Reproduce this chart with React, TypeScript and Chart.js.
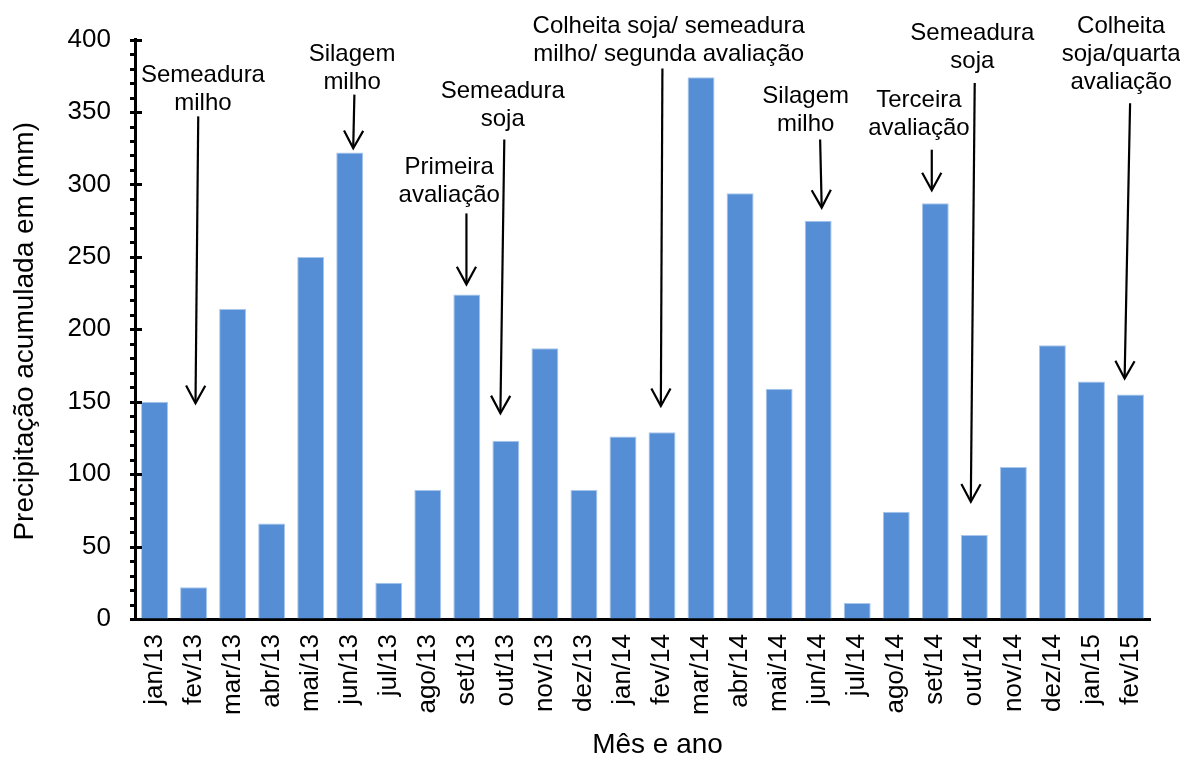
import React, { useEffect, useRef } from "react";
import { Chart, registerables } from "chart.js";

Chart.register(...registerables);

const months = [
  "jan/13", "fev/13", "mar/13", "abr/13", "mai/13", "jun/13", "jul/13", "ago/13",
  "set/13", "out/13", "nov/13", "dez/13", "jan/14", "fev/14", "mar/14", "abr/14",
  "mai/14", "jun/14", "jul/14", "ago/14", "set/14", "out/14", "nov/14", "dez/14",
  "jan/15", "fev/15",
];

const precipitation = [
  150, 22, 214, 66, 250, 322, 25, 89, 224, 123, 187, 89, 126, 129, 374, 294,
  159, 275, 11, 74, 287, 58, 105, 189, 164, 155,
];

const yMin = 0;
const yMax = 400;
const yMajorStep = 50;
const yMinorStep = 10;

const yTitle = "Precipitação acumulada em (mm)";
const xTitle = "Mês e ano";

// Annotations: text lines, text centre (category index), first line value
const noteLines: string[][] = [
  ["Semeadura", "milho"],
  ["Silagem", "milho"],
  ["Primeira", "avaliação"],
  ["Semeadura", "soja"],
  ["Colheita soja/ semeadura", "milho/ segunda avaliação"],
  ["Silagem", "milho"],
  ["Terceira", "avaliação"],
  ["Semeadura", "soja"],
  ["Colheita", "soja/quarta", "avaliação"],
];
const noteTextX = [1.24, 5.06, 7.55, 8.92, 13.17, 16.68, 19.58, 20.95, 24.76];
const noteTextY = [375, 390, 312, 364, 409, 361, 358, 404, 409];
// Arrows: from (index, value) to (index, value)
const arrowFromX = [1.12, 5.12, 7.99, 8.96, 13.01, 17.05, 19.91, 21.01, 24.99];
const arrowFromY = [347, 362, 280, 331, 380, 331, 324, 370, 356];
const arrowToX = [1.05, 5.09, 7.99, 8.86, 12.97, 17.09, 19.91, 20.91, 24.85];
const arrowToY = [149, 325, 231, 142, 147, 284, 296, 81, 166];

const FONT = "'Liberation Sans', Arial, sans-serif";

const overlayPlugin = {
  id: "overlay",
  afterDraw(chart: any) {
    const ctx = chart.ctx as CanvasRenderingContext2D;
    const x = chart.scales.x;
    const y = chart.scales.y;
    const area = chart.chartArea;
    const xAt = (i: number) => x.getPixelForValue(0) + i * (x.getPixelForValue(1) - x.getPixelForValue(0));
    ctx.save();

    // y ticks: minor (left side) and major (crossing the axis)
    ctx.strokeStyle = "#000";
    for (let v = yMin; v <= yMax; v += yMinorStep) {
      const py = Math.round(y.getPixelForValue(v)) + 0.5;
      const major = v % yMajorStep === 0;
      ctx.lineWidth = 3;
      ctx.beginPath();
      ctx.moveTo(area.left - 5, py);
      ctx.lineTo(major ? area.left + 7 : area.left, py);
      ctx.stroke();
    }

    // annotations
    ctx.fillStyle = "#000";
    ctx.font = `24px ${FONT}`;
    ctx.textAlign = "center";
    ctx.textBaseline = "middle";
    for (let k = 0; k < noteLines.length; k++) {
      const cx = xAt(noteTextX[k]);
      const cy = y.getPixelForValue(noteTextY[k]);
      noteLines[k].forEach((line, j) => ctx.fillText(line, cx, cy + j * 28));

      const x0 = xAt(arrowFromX[k]);
      const y0 = y.getPixelForValue(arrowFromY[k]);
      const x1 = xAt(arrowToX[k]);
      const y1 = y.getPixelForValue(arrowToY[k]);
      ctx.lineWidth = 2.2;
      ctx.beginPath();
      ctx.moveTo(x0, y0);
      ctx.lineTo(x1, y1 - 1);
      ctx.stroke();
      const ang = Math.atan2(y1 - y0, x1 - x0);
      const len = 20;
      const spread = 0.5;
      ctx.beginPath();
      ctx.moveTo(x1 - len * Math.cos(ang - spread), y1 - len * Math.sin(ang - spread));
      ctx.lineTo(x1, y1);
      ctx.lineTo(x1 - len * Math.cos(ang + spread), y1 - len * Math.sin(ang + spread));
      ctx.stroke();
    }

    // axis titles
    ctx.font = `28px ${FONT}`;
    ctx.textAlign = "center";
    ctx.textBaseline = "middle";
    ctx.fillText(xTitle, (area.left + area.right) / 2 + 15, 745);
    ctx.save();
    ctx.translate(25, (area.top + area.bottom) / 2 + 2);
    ctx.rotate(-Math.PI / 2);
    ctx.fillText(yTitle, 0, 0);
    ctx.restore();

    ctx.restore();
  },
};

export default function App() {
  const ref = useRef<HTMLCanvasElement | null>(null);

  useEffect(() => {
    if (!ref.current) return;
    const chart = new Chart(ref.current, {
      type: "bar",
      data: {
        labels: months,
        datasets: [
          {
            label: "Precipitação",
            data: precipitation,
            backgroundColor: "#558ED5",
            borderColor: "#A9C6EC",
            borderWidth: 1,
            barPercentage: 0.69,
            categoryPercentage: 1,
          },
        ],
      },
      options: {
        responsive: false,
        animation: false,
        layout: { padding: { top: 36, right: 30, bottom: 0, left: 0 } },
        plugins: {
          legend: { display: false },
          tooltip: { enabled: false },
          title: { display: false },
        },
        scales: {
          x: {
            afterFit: (s: any) => {
              s.height = 138;
            },
            grid: { display: true, drawOnChartArea: false, drawTicks: false },
            border: { display: true, color: "#000", width: 3 },
            ticks: {
              color: "#000",
              font: { family: FONT, size: 26 },
              minRotation: 90,
              maxRotation: 90,
              padding: 15,
              autoSkip: false,
            },
          },
          y: {
            min: yMin,
            max: yMax,
            afterFit: (s: any) => {
              s.width = 135;
            },
            grid: { display: true, drawOnChartArea: false, drawTicks: false },
            border: { display: true, color: "#000", width: 3 },
            ticks: {
              stepSize: yMajorStep,
              color: "#000",
              font: { family: FONT, size: 26 },
              padding: 24,
            },
          },
        },
      },
      plugins: [overlayPlugin],
    });
    return () => chart.destroy();
  }, []);

  return (
    <div style={{ position: "absolute", left: 0, top: 0, width: 1180, height: 757, background: "#fff" }}>
      <canvas ref={ref} width={1180} height={757} style={{ width: 1180, height: 757, display: "block" }} />
    </div>
  );
}
